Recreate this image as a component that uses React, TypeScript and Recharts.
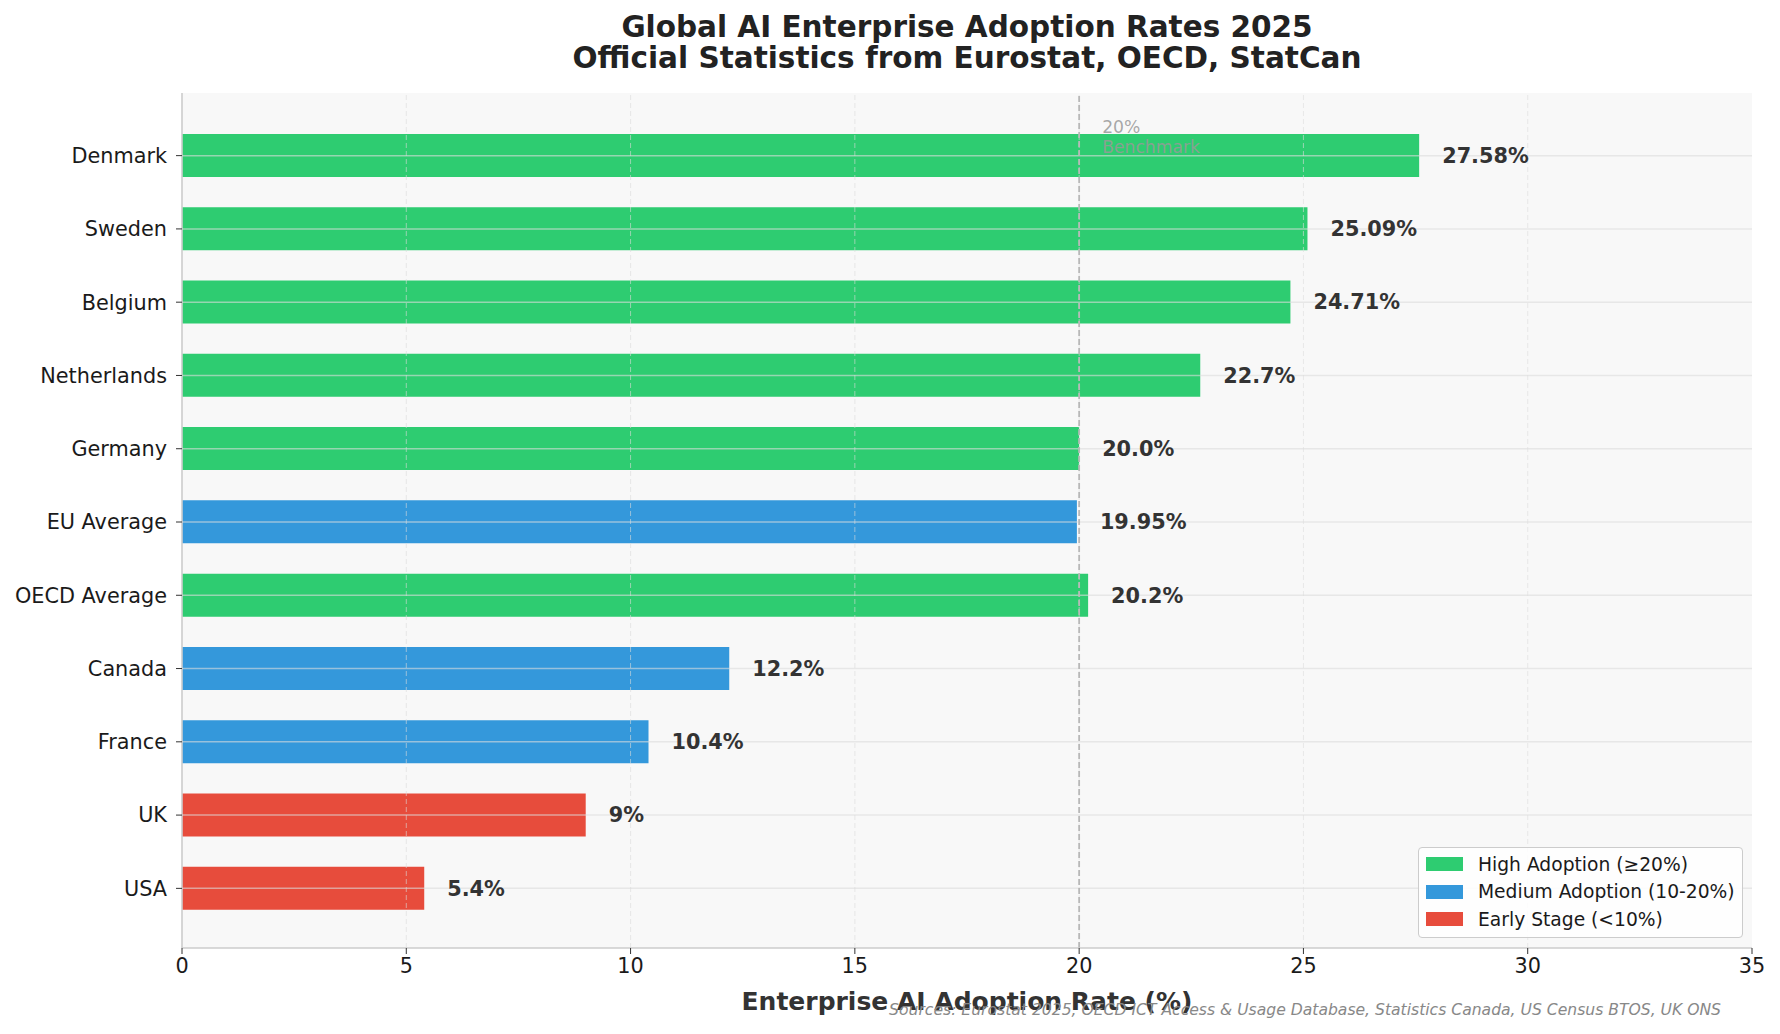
import {
  Bar,
  BarChart,
  CartesianGrid,
  Cell,
  LabelList,
  ReferenceLine,
  XAxis,
  YAxis,
} from "recharts";

const COUNTRIES = [
  "Denmark",
  "Sweden",
  "Belgium",
  "Netherlands",
  "Germany",
  "EU Average",
  "OECD Average",
  "Canada",
  "France",
  "UK",
  "USA",
];
const RATES = [27.58, 25.09, 24.71, 22.7, 20.0, 19.95, 20.2, 12.2, 10.4, 9, 5.4];
const RATE_LABELS = [
  "27.58%",
  "25.09%",
  "24.71%",
  "22.7%",
  "20.0%",
  "19.95%",
  "20.2%",
  "12.2%",
  "10.4%",
  "9%",
  "5.4%",
];
const TIERS = [
  "high",
  "high",
  "high",
  "high",
  "high",
  "medium",
  "high",
  "medium",
  "medium",
  "early",
  "early",
];
const X_TICKS = [0, 5, 10, 15, 20, 25, 30, 35];
const GRID_TICKS = [5, 10, 15, 20, 25, 30];
const BENCHMARK = 20;
const LEGEND_KEYS = ["high", "medium", "early"];
const LEGEND_LABELS = [
  "High Adoption (≥20%)",
  "Medium Adoption (10-20%)",
  "Early Stage (<10%)",
];
const TITLE_LINES = [
  "Global AI Enterprise Adoption Rates 2025",
  "Official Statistics from Eurostat, OECD, StatCan",
];
const X_LABEL = "Enterprise AI Adoption Rate (%)";
const SOURCES =
  "Sources: Eurostat 2025, OECD ICT Access & Usage Database, Statistics Canada, US Census BTOS, UK ONS";

const TIER_COLORS: Record<string, string> = {
  high: "#2ecc71",
  medium: "#3498db",
  early: "#e74c3c",
};

const FONT = "'DejaVu Sans', sans-serif";

const data = COUNTRIES.map((country, i) => ({
  country,
  rate: RATES[i],
  label: RATE_LABELS[i],
  tier: TIERS[i],
}));

const AXIS_LINE = { stroke: "#cccccc", strokeWidth: 1.6 };
const TICK_LINE = { stroke: "#333333", strokeWidth: 1 };

function BenchmarkLabel(props: any) {
  const vb = props.viewBox || {};
  const x = (vb.x ?? 0) + 23;
  const y = (vb.y ?? 0) + 40;
  return (
    <text
      x={x}
      y={y}
      fontFamily={FONT}
      fontSize={17.2}
      fill="#999999"
      fillOpacity={0.85}
    >
      <tspan x={x} y={y}>
        {BENCHMARK}%
      </tspan>
      <tspan x={x} y={y + 20}>
        Benchmark
      </tspan>
    </text>
  );
}

export default function App() {
  return (
    <div
      style={{
        position: "absolute",
        left: 0,
        top: 0,
        width: 1780,
        height: 1034,
        background: "#ffffff",
        fontFamily: FONT,
      }}
    >
      <div
        style={{
          position: "absolute",
          left: 182,
          width: 1570,
          top: 12,
          textAlign: "center",
          fontSize: 29.5,
          lineHeight: "31px",
          fontWeight: "bold",
          color: "#222222",
          whiteSpace: "nowrap",
        }}
      >
        {TITLE_LINES.map((t) => (
          <div key={t}>{t}</div>
        ))}
      </div>

      <BarChart
        width={1780}
        height={1034}
        data={data}
        layout="vertical"
        margin={{ top: 93, right: 28, left: 0, bottom: 46 }}
        barCategoryGap={0}
      >
        <CartesianGrid fill="#f8f8f8" horizontal={false} vertical={false} stroke="none" />
        <XAxis
          type="number"
          domain={[0, 35]}
          ticks={X_TICKS}
          interval={0}
          height={40}
          axisLine={AXIS_LINE}
          tickLine={TICK_LINE}
          tickSize={6}
          tickMargin={4}
          tick={{ fill: "#1a1a1a", fontSize: 20.8, fontFamily: FONT }}
        />
        <YAxis
          type="category"
          dataKey="country"
          width={182}
          interval={0}
          padding={{ top: 26, bottom: 23 }}
          axisLine={AXIS_LINE}
          tickLine={TICK_LINE}
          tickSize={6}
          tickMargin={9}
          tick={{ fill: "#1a1a1a", fontSize: 20.8, fontFamily: FONT }}
        />
        <Bar dataKey="rate" barSize={43} isAnimationActive={false}>
          {data.map((d) => (
            <Cell key={d.country} fill={TIER_COLORS[d.tier]} />
          ))}
          <LabelList
            dataKey="label"
            position="right"
            offset={23}
            fill="#333333"
            fontSize={20.8}
            fontWeight="bold"
            fontFamily={FONT}
          />
        </Bar>
        {COUNTRIES.map((c) => (
          <ReferenceLine
            key={`h-${c}`}
            y={c}
            stroke="#dcdcdc"
            strokeOpacity={0.6}
            strokeWidth={1.5}
          />
        ))}
        {GRID_TICKS.map((t) => (
          <ReferenceLine
            key={`v-${t}`}
            x={t}
            stroke="#dcdcdc"
            strokeOpacity={0.6}
            strokeWidth={1}
            strokeDasharray="5 3"
          />
        ))}
        <ReferenceLine
          x={BENCHMARK}
          stroke="#b8b8b8"
          strokeWidth={1.8}
          strokeDasharray="6 3"
          label={BenchmarkLabel}
        />
      </BarChart>

      <div
        style={{
          position: "absolute",
          left: 182,
          width: 1570,
          top: 987,
          textAlign: "center",
          fontSize: 25,
          lineHeight: "30px",
          fontWeight: "bold",
          color: "#333333",
          whiteSpace: "nowrap",
        }}
      >
        {X_LABEL}
      </div>

      <div
        style={{
          position: "absolute",
          right: 59,
          top: 1001,
          fontSize: 15.6,
          lineHeight: "18px",
          fontStyle: "italic",
          color: "#888888",
          whiteSpace: "nowrap",
        }}
      >
        {SOURCES}
      </div>

      <div
        style={{
          position: "absolute",
          left: 1418,
          top: 847,
          width: 325,
          height: 91,
          boxSizing: "border-box",
          border: "1.5px solid #cccccc",
          borderRadius: 4,
          background: "rgba(255,255,255,0.85)",
        }}
      >
        {LEGEND_KEYS.map((k, i) => (
          <div
            key={k}
            style={{
              position: "absolute",
              left: 7,
              top: 4 + i * 27.5,
              height: 24,
              display: "flex",
              alignItems: "center",
              whiteSpace: "nowrap",
            }}
          >
            <span
              style={{
                display: "inline-block",
                width: 37,
                height: 14,
                background: TIER_COLORS[k],
                marginRight: 15,
              }}
            />
            <span style={{ fontSize: 18.7, color: "#1a1a1a" }}>{LEGEND_LABELS[i]}</span>
          </div>
        ))}
      </div>
    </div>
  );
}
